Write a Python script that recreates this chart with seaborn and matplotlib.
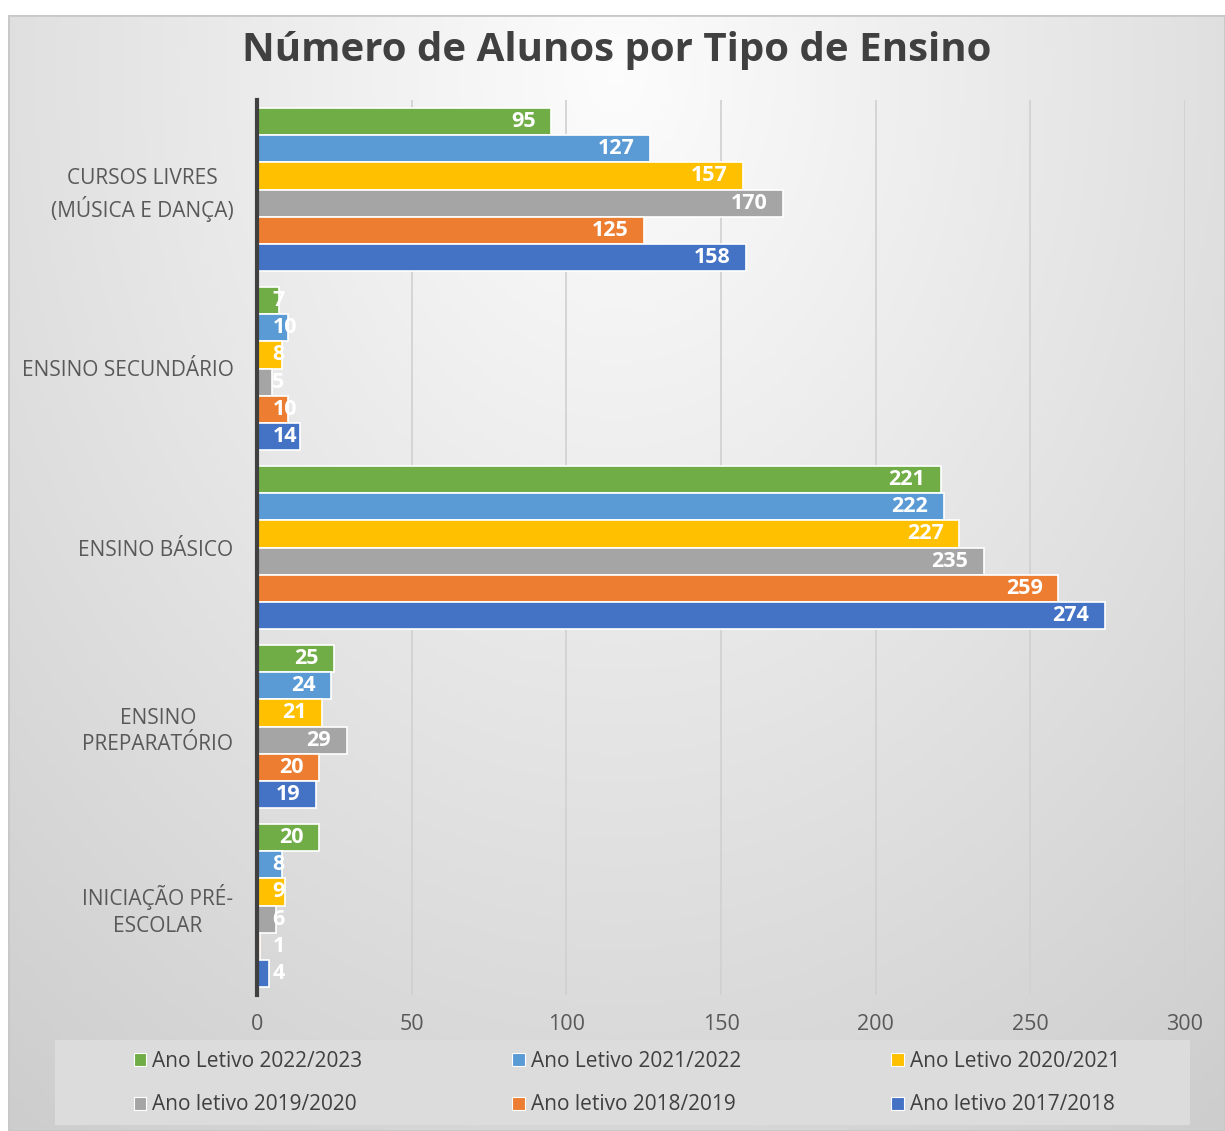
import numpy as np
import pandas as pd
import matplotlib
matplotlib.use('Agg')
import matplotlib.pyplot as plt
import matplotlib.patches as mpatches
import seaborn as sns

categorias = ['CURSOS LIVRES\n(MÚSICA E DANÇA)', 'ENSINO SECUNDÁRIO', 'ENSINO BÁSICO',
              'ENSINO\nPREPARATÓRIO', 'INICIAÇÃO PRÉ-\nESCOLAR']
anos = ['Ano Letivo 2022/2023', 'Ano Letivo 2021/2022', 'Ano Letivo 2020/2021',
        'Ano letivo 2019/2020', 'Ano letivo 2018/2019', 'Ano letivo 2017/2018']
v_2022 = [95, 7, 221, 25, 20]
v_2021 = [127, 10, 222, 24, 8]
v_2020 = [157, 8, 227, 21, 9]
v_2019 = [170, 5, 235, 29, 6]
v_2018 = [125, 10, 259, 20, 1]
v_2017 = [158, 14, 274, 19, 4]
cores = ['#70AD47', '#5B9BD5', '#FFC000', '#A5A5A5', '#ED7D31', '#4472C4']

series = [v_2022, v_2021, v_2020, v_2019, v_2018, v_2017]
rows = []
for ano, vals in zip(anos, series):
    for cat, v in zip(categorias, vals):
        rows.append({'tipo': cat, 'ano': ano, 'alunos': v})
df = pd.DataFrame(rows)

sns.set_style('white')
plt.rcParams['font.family'] = ['Open Sans', 'DejaVu Sans']

W, H = 1225, 1131
fig = plt.figure(figsize=(W / 100, H / 100), dpi=100)

# background with soft radial gradient
bg = fig.add_axes([8 / W, 0, (W - 8) / W, (H - 15) / H])
yy, xx = np.mgrid[0:1:300j, 0:1:300j]
r = np.sqrt(((xx - 0.5) / 0.8) ** 2 + ((yy - 0.05) / 1.15) ** 2)
shade = np.clip(0.99 - 0.18 * r, 0.8, 0.99)
bg.imshow(np.dstack([shade] * 3), aspect='auto', extent=[0, 1, 0, 1], origin='upper')
bg.add_patch(mpatches.Rectangle((0, 0), 1, 1, fill=False, edgecolor='#C8C8C8', lw=2,
                                transform=bg.transAxes))
bg.axis('off')

# legend box
fig.patches.append(mpatches.Rectangle((55 / W, 1 - 1125 / H), (1190 - 55) / W, 85 / H,
                                      transform=fig.transFigure, facecolor='#DCDCDC',
                                      edgecolor='none', zorder=1))

ax = fig.add_axes([257 / W, 1 - 995 / H, (1185 - 257) / W, (995 - 100) / H])
ax.patch.set_alpha(0)
sns.barplot(data=df, y='tipo', x='alunos', hue='ano', palette=cores, orient='h',
            width=0.91, saturation=1, edgecolor='white', linewidth=1.2, ax=ax,
            legend=False, zorder=3)

ax.set_xlim(0, 300)
ax.set_xticks(range(0, 301, 50))
ax.grid(axis='x', color='#D0D0D0', lw=1.2, zorder=0)
ax.set_xlabel('')
ax.set_ylabel('')
for s in ['top', 'right', 'bottom']:
    ax.spines[s].set_visible(False)
ax.spines['left'].set_color('#404040')
ax.spines['left'].set_linewidth(3)
ax.spines['left'].set_zorder(5)
ax.tick_params(axis='x', length=0, labelsize=15.5, colors='#595959', pad=14)
ax.tick_params(axis='y', length=0, labelsize=15, colors='#595959', pad=17)
for t in ax.get_yticklabels():
    t.set_multialignment('center')
    t.set_linespacing(1.32)

# value labels
for cont, vals in zip(ax.containers, series):
    for bar, v in zip(cont, vals):
        yc = bar.get_y() + bar.get_height() / 2
        digits = len(str(v))
        if v - 5 - 4 * digits < 5:
            ax.text(5, yc, str(v), ha='left', va='center', color='white',
                    fontsize=15.5, fontweight='bold', zorder=6)
        else:
            ax.text(v - 5, yc, str(v), ha='right', va='center', color='white',
                    fontsize=15.5, fontweight='bold', zorder=6)

fig.text(617 / W, 1 - 51 / H, 'Número de Alunos por Tipo de Ensino', ha='center', va='center',
         fontsize=29, fontweight='bold', color='#404040')

handles = [mpatches.Rectangle((0, 0), 1, 1, facecolor=c, edgecolor='white', lw=0.8) for c in cores]
order = [0, 3, 1, 4, 2, 5]
leg = fig.legend([handles[i] for i in order], [anos[i] for i in order], loc='center', ncol=3,
                 bbox_to_anchor=(627 / W, 1 - 1083 / H), frameon=False, fontsize=15,
                 handlelength=0.6, handleheight=0.6, handletextpad=0.3,
                 labelspacing=1.1, columnspacing=7.2, borderpad=0)
for t in leg.get_texts():
    t.set_color('#404040')

fig.savefig('out.png', dpi=100)
